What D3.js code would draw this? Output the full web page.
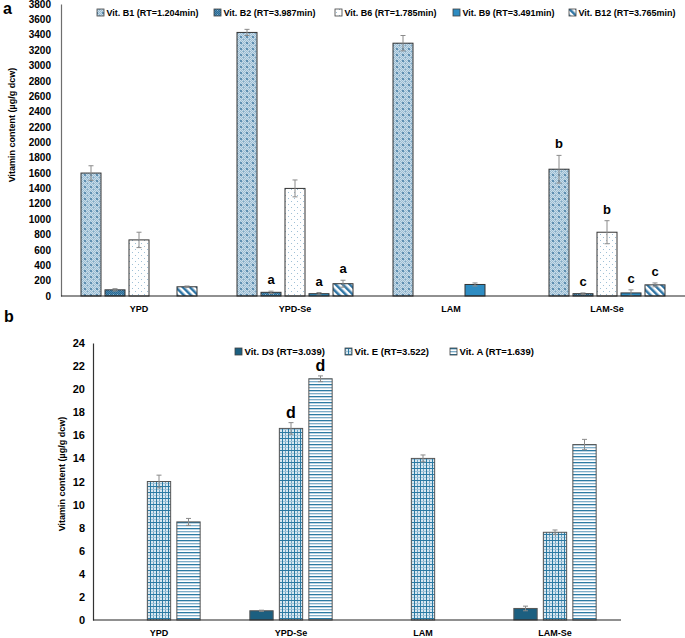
<!DOCTYPE html>
<html>
<head>
<meta charset="utf-8">
<script src="https://cdn.jsdelivr.net/npm/d3@7"></script>
<style>
  html, body { margin: 0; padding: 0; background: #fff; }
  svg { display: block; font-family: "Liberation Sans", Arial, sans-serif; font-weight: bold; }
</style>
</head>
<body>
<svg id="chart" width="685" height="638"></svg>
<script>
// ---------- Panel a data ----------
const catsA = ["YPD", "YPD-Se", "LAM", "LAM-Se"];
const seriesA = ["Vit. B1 (RT=1.204min)", "Vit. B2 (RT=3.987min)", "Vit. B6 (RT=1.785min)", "Vit. B9 (RT=3.491min)", "Vit. B12 (RT=3.765min)"];
const b1Vals = [1600, 3430, 3290, 1650];
const b1Err = [95, 40, 100, 180];
const b2Vals = [80, 48, 0, 30];
const b2Err = [15, 15, 0, 10];
const b6Vals = [730, 1400, 0, 830];
const b6Err = [100, 110, 0, 150];
const b9Vals = [0, 30, 150, 40];
const b9Err = [0, 15, 20, 40];
const b12Vals = [120, 160, 0, 145];
const b12Err = [10, 45, 0, 25];
const b1Sig = ["", "", "", "b"];
const b2Sig = ["", "a", "", "c"];
const b6Sig = ["", "", "", "b"];
const b9Sig = ["", "a", "", "c"];
const b12Sig = ["", "a", "", "c"];
const ticksA = [0, 200, 400, 600, 800, 1000, 1200, 1400, 1600, 1800, 2000, 2200, 2400, 2600, 2800, 3000, 3200, 3400, 3600, 3800];

// ---------- Panel b data ----------
const catsB = ["YPD", "YPD-Se", "LAM", "LAM-Se"];
const seriesB = ["Vit. D3 (RT=3.039)", "Vit. E (RT=3.522)", "Vit. A (RT=1.639)"];
const d3Vals = [0, 0.8, 0, 1.0];
const d3Err = [0, 0.05, 0, 0.2];
const eVals = [12.0, 16.6, 14.0, 7.6];
const eErr = [0.55, 0.5, 0.3, 0.2];
const aVals = [8.5, 20.9, 0, 15.2];
const aErr = [0.3, 0.25, 0, 0.45];
const d3Sig = ["", "", "", ""];
const eSig = ["", "d", "", ""];
const aSig = ["", "d", "", ""];
const ticksB = [0, 2, 4, 6, 8, 10, 12, 14, 16, 18, 20, 22, 24];

const svg = d3.select("#chart");
const defs = svg.append("defs");

// ---------- patterns ----------
function pat(id, w, h, bg, draw, transform) {
  const p = defs.append("pattern").attr("id", id).attr("patternUnits", "userSpaceOnUse")
    .attr("width", w).attr("height", h);
  if (transform) p.attr("patternTransform", transform);
  p.append("rect").attr("width", w).attr("height", h).attr("fill", bg);
  draw(p);
}
// B1: light blue fine checker with darker grid blobs
pat("pB1", 6, 6, "#9bbdd3", p => {
  for (let i = 0; i < 6; i++) for (let j = 0; j < 6; j++) {
    if ((i + j) % 2 === 0) p.append("rect").attr("x", i).attr("y", j).attr("width", 1).attr("height", 1).attr("fill", "#c9dce9");
  }
  p.append("rect").attr("x", 0).attr("y", 0).attr("width", 2).attr("height", 2).attr("fill", "#5f8fb1");
  p.append("rect").attr("x", 3).attr("y", 3).attr("width", 1).attr("height", 1).attr("fill", "#7fa8c4");
});
// B2: darker blue checker
pat("pB2", 4, 4, "#4b87ad", p => {
  for (let i = 0; i < 4; i++) for (let j = 0; j < 4; j++) {
    if ((i + j) % 2 === 0) p.append("rect").attr("x", i).attr("y", j).attr("width", 1).attr("height", 1).attr("fill", "#2c6a93");
  }
  p.append("rect").attr("x", 1).attr("y", 2).attr("width", 1).attr("height", 1).attr("fill", "#8db5cf");
});
// B6: white with sparse light-blue dots
pat("pB6", 6, 6, "#ffffff", p => {
  p.append("rect").attr("x", 0).attr("y", 0).attr("width", 1).attr("height", 1).attr("fill", "#9fc0d6");
  p.append("rect").attr("x", 3).attr("y", 3).attr("width", 1).attr("height", 1).attr("fill", "#9fc0d6");
});
// B12: white with diagonal stripes
pat("pB12", 5, 5, "#ffffff", p => {
  p.append("rect").attr("x", 0).attr("y", 0).attr("width", 2.5).attr("height", 5).attr("fill", "#2f75a5");
}, "rotate(-45)");
// Vit E: grid
pat("pE", 6, 6, "#d9e8f1", p => {
  p.append("rect").attr("x", 3).attr("y", 0).attr("width", 1).attr("height", 6).attr("fill", "#6fa3c3");
  p.append("rect").attr("x", 0).attr("y", 3).attr("width", 6).attr("height", 1).attr("fill", "#9fc3d8");
  p.append("rect").attr("x", 0).attr("y", 0).attr("width", 1).attr("height", 6).attr("fill", "#2b7aa3");
  p.append("rect").attr("x", 0).attr("y", 0).attr("width", 6).attr("height", 1).attr("fill", "#2b7aa3");
});
// Vit A: horizontal lines
pat("pA", 6, 6, "#ffffff", p => {
  p.append("rect").attr("x", 0).attr("y", 0).attr("width", 6).attr("height", 1).attr("fill", "#2b7aa3");
  p.append("rect").attr("x", 0).attr("y", 1).attr("width", 6).attr("height", 1).attr("fill", "#bcd5e4");
  p.append("rect").attr("x", 0).attr("y", 3).attr("width", 6).attr("height", 1).attr("fill", "#7eadc9");
  p.append("rect").attr("x", 0).attr("y", 4).attr("width", 6).attr("height", 1).attr("fill", "#d3e4ee");
});

const fillsA = ["url(#pB1)", "url(#pB2)", "url(#pB6)", "#2e8cc2", "url(#pB12)"];
const fillsB = ["#1c5f80", "url(#pE)", "url(#pA)"];

// ---------- generic drawing ----------
function drawPanel(cfg) {
  const g = svg.append("g");
  const x0 = d3.scaleBand().domain(cfg.cats).range([cfg.left, cfg.right]);
  const x1 = d3.scaleBand().domain(cfg.series).range(cfg.groupRange)
    .paddingInner(cfg.padIn).paddingOuter(cfg.padIn / 2);
  const y = d3.scaleLinear().domain([0, cfg.max]).range([cfg.bottom, cfg.top]);

  // y tick labels (no tick marks)
  const yAxis = d3.axisLeft(y).tickValues(cfg.ticks).tickFormat(d3.format("d")).tickSize(0).tickPadding(cfg.tickPad);
  const ya = g.append("g").attr("transform", `translate(${cfg.left},0)`).call(yAxis);
  ya.select(".domain").attr("stroke", cfg.yAxisColor).attr("stroke-width", 1.2);
  ya.selectAll("text").attr("font-size", cfg.tickFont).attr("font-weight", "bold")
    .attr("font-family", "Liberation Sans, Arial, sans-serif").attr("fill", "#000");

  // bars
  cfg.series.forEach((s, si) => {
    const vals = cfg.vals[si], errs = cfg.errs[si], sig = cfg.sigs[si];
    const data = cfg.cats.map((c, ci) => ({ c, v: vals[ci], e: errs[ci], s: sig[ci] })).filter(d => d.v > 0);
    const gs = g.append("g");
    gs.selectAll("rect").data(data).join("rect")
      .attr("x", d => x0(d.c) + x1(s))
      .attr("y", d => y(d.v))
      .attr("width", x1.bandwidth())
      .attr("height", d => y(0) - y(d.v))
      .attr("fill", cfg.fills[si])
      .attr("stroke", cfg.barStroke).attr("stroke-width", 1);
    // error bars
    const cx = d => x0(d.c) + x1(s) + x1.bandwidth() / 2;
    const eb = gs.selectAll("g.eb").data(data.filter(d => d.e > 0)).join("g").attr("class", "eb");
    eb.append("line").attr("x1", cx).attr("x2", cx).attr("y1", d => y(d.v - d.e)).attr("y2", d => y(d.v + d.e))
      .attr("stroke", "#8a8a8a").attr("stroke-width", 1);
    [d => d.v - d.e, d => d.v + d.e].forEach(f => {
      eb.append("line").attr("x1", d => cx(d) - 2.5).attr("x2", d => cx(d) + 2.5)
        .attr("y1", d => y(f(d))).attr("y2", d => y(f(d)))
        .attr("stroke", "#8a8a8a").attr("stroke-width", 1);
    });
    // significance letters
    gs.selectAll("text.sig").data(data.filter(d => d.s)).join("text").attr("class", "sig")
      .attr("x", cx).attr("y", d => y(d.v + d.e) - cfg.sigGap)
      .attr("text-anchor", "middle").attr("font-size", cfg.sigFont).attr("font-weight", "bold")
      .attr("fill", "#000").text(d => d.s);
  });

  // x axis line
  g.append("line").attr("x1", cfg.left).attr("x2", cfg.right).attr("y1", y(0)).attr("y2", y(0))
    .attr("stroke", "#222").attr("stroke-width", 1.2);
  // category labels
  g.selectAll("text.cat").data(cfg.cats).join("text").attr("class", "cat")
    .attr("x", d => x0(d) + x0.bandwidth() / 2).attr("y", cfg.catY)
    .attr("text-anchor", "middle").attr("font-size", cfg.catFont).attr("fill", "#000").text(d => d);

  // y title
  g.append("text").attr("transform", `translate(${cfg.titleX},${cfg.titleY}) rotate(-90)`)
    .attr("text-anchor", "middle").attr("font-size", cfg.titleFont).attr("fill", "#000")
    .text("Vitamin content (µg/g dcw)");

  // legend
  cfg.series.forEach((s, si) => {
    const lx = cfg.legendX[si];
    g.append("rect").attr("x", lx).attr("y", cfg.legendY - 4).attr("width", 7).attr("height", 7)
      .attr("fill", cfg.fills[si]).attr("stroke", "#404040").attr("stroke-width", 0.8);
    g.append("text").attr("x", lx + 9.5).attr("y", cfg.legendY + 3.2)
      .attr("font-size", cfg.legendFont).attr("fill", "#000").text(s);
  });

  // panel letter
  g.append("text").attr("x", cfg.letterX).attr("y", cfg.letterY).attr("font-size", 16)
    .attr("fill", "#000").text(cfg.letter);
}

drawPanel({
  cats: catsA, series: seriesA,
  vals: [b1Vals, b2Vals, b6Vals, b9Vals, b12Vals],
  errs: [b1Err, b2Err, b6Err, b9Err, b12Err],
  sigs: [b1Sig, b2Sig, b6Sig, b9Sig, b12Sig],
  fills: fillsA,
  left: 61, right: 685, top: 4, bottom: 296, max: 3800, ticks: ticksA,
  groupRange: [18, 138], padIn: 1 / 6,
  tickFont: 10, tickPad: 10, yAxisColor: "#6e6e6e",
  barStroke: "#333", sigFont: 13, sigGap: 7,
  catY: 312, catFont: 9,
  titleX: 15, titleY: 125, titleFont: 9,
  legendX: [97, 214, 335, 453, 569], legendY: 13, legendFont: 9,
  letter: "a", letterX: 3, letterY: 14
});

drawPanel({
  cats: catsB, series: seriesB,
  vals: [d3Vals, eVals, aVals],
  errs: [d3Err, eErr, aErr],
  sigs: [d3Sig, eSig, aSig],
  fills: fillsB,
  left: 93, right: 621, top: 343, bottom: 620, max: 24, ticks: ticksB,
  groupRange: [21.75, 110.25], padIn: 0.21,
  tickFont: 11, tickPad: 8, yAxisColor: "#333",
  barStroke: "#555", sigFont: 16, sigGap: 5,
  catY: 636, catFont: 9,
  titleX: 65, titleY: 474, titleFont: 9,
  legendX: [235, 345, 450], legendY: 352, legendFont: 9.5,
  letter: "b", letterX: 4, letterY: 322
});
</script>
</body>
</html>
